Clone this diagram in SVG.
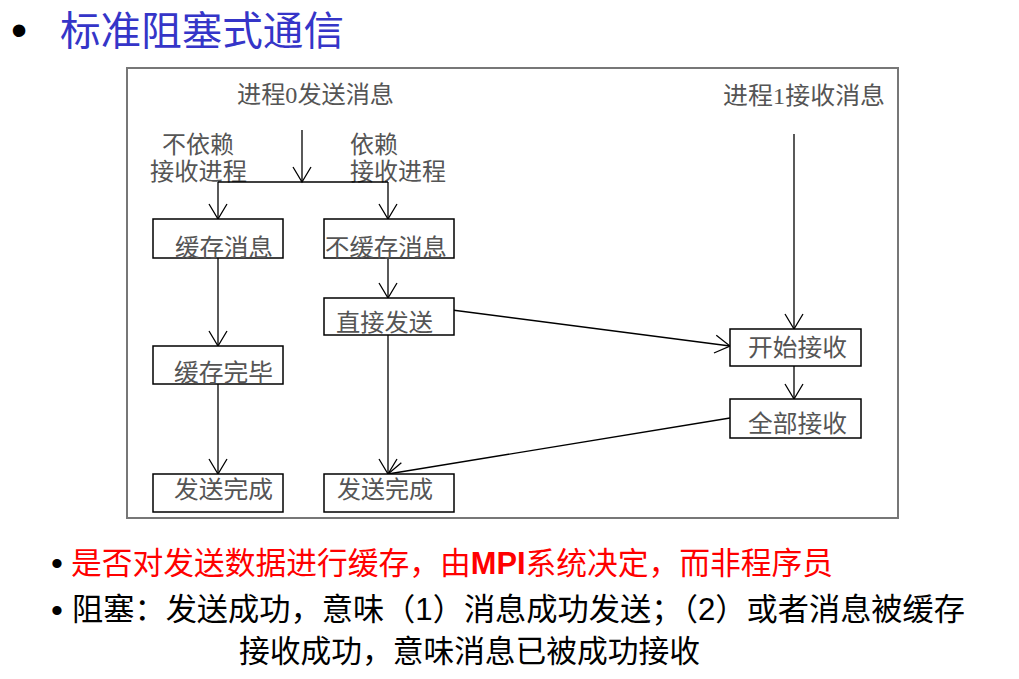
<svg xmlns="http://www.w3.org/2000/svg" width="1019" height="679" viewBox="0 0 1019 679">
<style>
.lbl{font-family:"Liberation Serif","Noto Sans CJK SC",serif;font-size:24px;fill:#555}
.box{fill:#fff;stroke:#000;stroke-width:1.5}
.con{fill:none;stroke:#000;stroke-width:1.3}
.title{font-family:"Liberation Serif","Noto Sans CJK SC",serif;font-size:40px;fill:#3535c8}
.note{font-family:"Liberation Sans","Noto Sans CJK SC",sans-serif;font-size:31px}
.bul{font-family:"Liberation Sans",sans-serif}
</style>
<defs>
<marker id="arr" markerUnits="userSpaceOnUse" viewBox="-20 -12 22 24" refX="0" refY="0" markerWidth="22" markerHeight="24" orient="auto" overflow="visible">
<path d="M-15,-9 L0,0 L-15,9" fill="none" stroke="#000" stroke-width="1.3"/>
</marker>
</defs>
<rect width="1019" height="679" fill="#fff"/>
<g id="title">
<text class="bul" x="11" y="46" font-size="46" fill="#000">•</text>
<text class="title" x="60" y="45" textLength="284" lengthAdjust="spacingAndGlyphs">标准阻塞式通信</text>
</g>
<rect id="frame" x="127" y="68" width="771" height="450" fill="none" stroke="#777" stroke-width="2"/>
<g id="headers">
<text class="lbl" x="237" y="103" textLength="157" lengthAdjust="spacingAndGlyphs">进程0发送消息</text>
<text class="lbl" x="723" y="104" textLength="162" lengthAdjust="spacingAndGlyphs">进程1接收消息</text>
<text class="lbl" x="162" y="153" textLength="72" lengthAdjust="spacingAndGlyphs">不依赖</text>
<text class="lbl" x="150" y="180" textLength="97" lengthAdjust="spacingAndGlyphs">接收进程</text>
<text class="lbl" x="350" y="153" textLength="48" lengthAdjust="spacingAndGlyphs">依赖</text>
<text class="lbl" x="350" y="180" textLength="96" lengthAdjust="spacingAndGlyphs">接收进程</text>
</g>
<g id="connectors">
<path class="con" d="M302,130 V182" marker-end="url(#arr)"/>
<path class="con" d="M218,182 H388"/>
<path class="con" d="M218,182 V219" marker-end="url(#arr)"/>
<path class="con" d="M388,182 V219" marker-end="url(#arr)"/>
<path class="con" d="M218,258 V346" marker-end="url(#arr)"/>
<path class="con" d="M218,384 V474" marker-end="url(#arr)"/>
<path class="con" d="M388,258 V298" marker-end="url(#arr)"/>
<path class="con" d="M388,335 V474" marker-end="url(#arr)"/>
<path class="con" d="M452,310 L730,346" marker-end="url(#arr)"/>
<path class="con" d="M794,134 V329" marker-end="url(#arr)"/>
<path class="con" d="M794,366 V399" marker-end="url(#arr)"/>
<path class="con" d="M730,418 L388,474" marker-end="url(#arr)"/>
</g>
<g id="n_buffer">
<rect class="box" x="153" y="219" width="130" height="39"/>
<text class="lbl" x="175" y="256" textLength="98" lengthAdjust="spacingAndGlyphs">缓存消息</text>
</g>
<g id="n_nobuffer">
<rect class="box" x="324" y="219" width="130" height="39"/>
<text class="lbl" x="325" y="256" textLength="122" lengthAdjust="spacingAndGlyphs">不缓存消息</text>
</g>
<g id="n_direct">
<rect class="box" x="324" y="298" width="130" height="37"/>
<text class="lbl" x="336" y="331" textLength="97" lengthAdjust="spacingAndGlyphs">直接发送</text>
</g>
<g id="n_bufdone">
<rect class="box" x="153" y="346" width="130" height="38"/>
<text class="lbl" x="174" y="381" textLength="99" lengthAdjust="spacingAndGlyphs">缓存完毕</text>
</g>
<g id="n_done1">
<rect class="box" x="153" y="474" width="130" height="38"/>
<text class="lbl" x="174" y="498" textLength="99" lengthAdjust="spacingAndGlyphs">发送完成</text>
</g>
<g id="n_done2">
<rect class="box" x="324" y="474" width="130" height="38"/>
<text class="lbl" x="337" y="498" textLength="96" lengthAdjust="spacingAndGlyphs">发送完成</text>
</g>
<g id="n_startrecv">
<rect class="box" x="730" y="329" width="131" height="37"/>
<text class="lbl" x="748" y="356" textLength="99" lengthAdjust="spacingAndGlyphs">开始接收</text>
</g>
<g id="n_allrecv">
<rect class="box" x="730" y="399" width="131" height="39"/>
<text class="lbl" x="748" y="432" textLength="99" lengthAdjust="spacingAndGlyphs">全部接收</text>
</g>
<g id="notes">
<text class="bul" x="51" y="575" font-size="34" fill="#000">•</text>
<text class="note" x="71" y="574" fill="#ff0000" textLength="762" lengthAdjust="spacingAndGlyphs">是否对发送数据进行缓存，由<tspan font-weight="bold">MPI</tspan>系统决定，而非程序员</text>
<text class="bul" x="51" y="622" font-size="34" fill="#000">•</text>
<text class="note" x="72" y="620" fill="#000" textLength="893" lengthAdjust="spacingAndGlyphs">阻塞：发送成功，意味（1）消息成功发送；（2）或者消息被缓存</text>
<text class="note" x="239" y="662" fill="#000" textLength="461" lengthAdjust="spacingAndGlyphs">接收成功，意味消息已被成功接收</text>
</g>
</svg>
